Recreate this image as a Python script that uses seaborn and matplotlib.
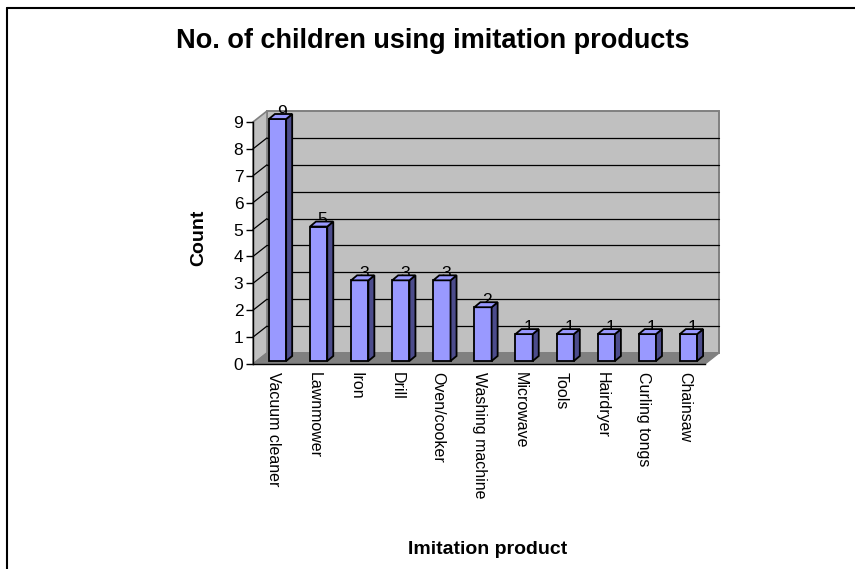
import matplotlib
matplotlib.use("Agg")
import matplotlib.pyplot as plt
import seaborn as sns
import pandas as pd
from matplotlib.patches import Polygon
from matplotlib.lines import Line2D

categories = ["Vacuum cleaner", "Lawnmower", "Iron", "Drill", "Oven/cooker",
              "Washing machine", "Microwave", "Tools", "Hairdryer",
              "Curling tongs", "Chainsaw"]
counts = [9, 5, 3, 3, 3, 2, 1, 1, 1, 1, 1]
y_ticks = list(range(0, 10))

title = "No. of children using imitation products"
xlabel = "Imitation product"
ylabel = "Count"

sns.set_theme(style="white")
plt.rcParams['font.family'] = ['Liberation Sans', 'DejaVu Sans']
plt.rcParams['text.color'] = 'black'
plt.rcParams['xtick.color'] = 'black'
plt.rcParams['ytick.color'] = 'black'

W, H = 855, 569
fig = plt.figure(figsize=(W / 100, H / 100), dpi=100)
fig.patch.set_facecolor("white")

# axes = front plane of the 3D box
x0, x1, ybot, ytop = 253, 705, 364, 122
ax = fig.add_axes([x0 / W, (H - ybot) / H, (x1 - x0) / W, (ybot - ytop) / H])
ax.set_facecolor("none")

df = pd.DataFrame({"cat": categories, "count": counts})
sns.barplot(data=df, x="cat", y="count", ax=ax, color="#9999FF", width=0.42,
            saturation=1, edgecolor="black", linewidth=1.3, zorder=5)
ax.set_xlim(-0.5, len(categories) - 0.5)
ax.set_ylim(0, 9)

# pixel -> data scales
pxx = (x1 - x0) / len(categories)
pxy = (ybot - ytop) / 9.0
def dxp(p): return p / pxx
def dyp(p): return p / pxy

DX, DY = 14, 11       # total depth (pixels)
BX, BY = 4, 3         # bar front offset
bx, by = 6, 5         # bar depth
n = len(categories)
L, R = -0.5, n - 0.5

# back wall
wall = Polygon([(L + dxp(DX), dyp(DY)), (R + dxp(DX), dyp(DY)),
                (R + dxp(DX), 9 + dyp(DY)), (L + dxp(DX), 9 + dyp(DY))],
               closed=True, facecolor="#C0C0C0", edgecolor="#808080",
               linewidth=1.4, zorder=0, clip_on=False)
ax.add_patch(wall)
# left side wall
side = Polygon([(L, 0), (L + dxp(DX), dyp(DY)), (L + dxp(DX), 9 + dyp(DY)), (L, 9)],
               closed=True, facecolor="#C0C0C0", edgecolor="#808080",
               linewidth=1.2, zorder=0.5, clip_on=False)
ax.add_patch(side)
# floor
floor = Polygon([(L, 0), (R, 0), (R + dxp(DX), dyp(DY)), (L + dxp(DX), dyp(DY))],
                closed=True, facecolor="#808080", edgecolor="#808080",
                linewidth=1.0, zorder=1, clip_on=False)
ax.add_patch(floor)
# gridlines
for k in y_ticks[1:-1]:
    ax.add_line(Line2D([L + dxp(DX), R + dxp(DX)], [k + dyp(DY), k + dyp(DY)],
                       color="black", linewidth=0.9, zorder=1.5, clip_on=False))
    ax.add_line(Line2D([L, L + dxp(DX)], [k, k + dyp(DY)],
                       color="black", linewidth=0.9, zorder=1.5, clip_on=False))

# 3D bars: shift front faces and add side / top faces
for p in [pt for pt in ax.patches if pt.get_zorder() == 5]:
    x, w, h = p.get_x(), p.get_width(), p.get_height()
    fx = x + dxp(BX)
    fy = dyp(BY)
    p.set_x(fx)
    p.set_y(fy)
    p.set_clip_on(False)
    sidep = Polygon([(fx + w, fy), (fx + w + dxp(bx), fy + dyp(by)),
                     (fx + w + dxp(bx), fy + h + dyp(by)), (fx + w, fy + h)],
                    closed=True, facecolor="#4C4C8C", edgecolor="black",
                    linewidth=1.3, zorder=5, clip_on=False)
    topp = Polygon([(fx, fy + h), (fx + w, fy + h),
                    (fx + w + dxp(bx), fy + h + dyp(by)), (fx + dxp(bx), fy + h + dyp(by))],
                   closed=True, facecolor="#9999FF", edgecolor="black",
                   linewidth=1.3, zorder=5, clip_on=False)
    ax.add_patch(sidep)
    ax.add_patch(topp)

for i, v in enumerate(counts):
    ax.text(i + dxp(8), v + dyp(10), str(v), ha="center", va="center",
            fontsize=12.5, color="black", zorder=2, clip_on=False)

# axes styling
for s in ["top", "right"]:
    ax.spines[s].set_visible(False)
for s in ["left", "bottom"]:
    ax.spines[s].set_color("black")
    ax.spines[s].set_linewidth(1.0)
    ax.spines[s].set_zorder(6)
ax.set_yticks(y_ticks)
ax.set_yticklabels([str(t) for t in y_ticks], fontsize=12.5)
ax.set_xticks(range(n))
ax.set_xticklabels(categories, rotation=270, fontsize=11.5, va="top", ha="center")
ax.set_xticks([i - 0.5 for i in range(n + 1)], minor=True)
ax.tick_params(axis="x", which="major", length=0, pad=6)
ax.tick_params(axis="x", which="minor", length=5, width=1, color="black", direction="out")
ax.tick_params(axis="y", length=5, width=1, color="black", direction="out", pad=2, left=True)
ax.set_xlabel("")
ax.set_ylabel("")
ax.grid(False)

fig.text(433 / W, 1 - 41 / H, title, ha="center", va="center",
         fontsize=19.5, fontweight="bold", color="black")
fig.text(199 / W, 1 - 238 / H, ylabel, ha="center", va="center", rotation=90,
         fontsize=14, fontweight="bold", color="black")
fig.text(488 / W, 1 - 549 / H, xlabel, ha="center", va="center",
         fontsize=14, fontweight="bold", color="black")

# outer border (top and left)
fig.add_artist(Line2D([7 / W, 7 / W], [0, 1 - 8 / H], color="black", linewidth=1.5,
                      transform=fig.transFigure))
fig.add_artist(Line2D([7 / W, 1], [1 - 8 / H, 1 - 8 / H], color="black", linewidth=1.5,
                      transform=fig.transFigure))

fig.savefig("out.png", dpi=100)
